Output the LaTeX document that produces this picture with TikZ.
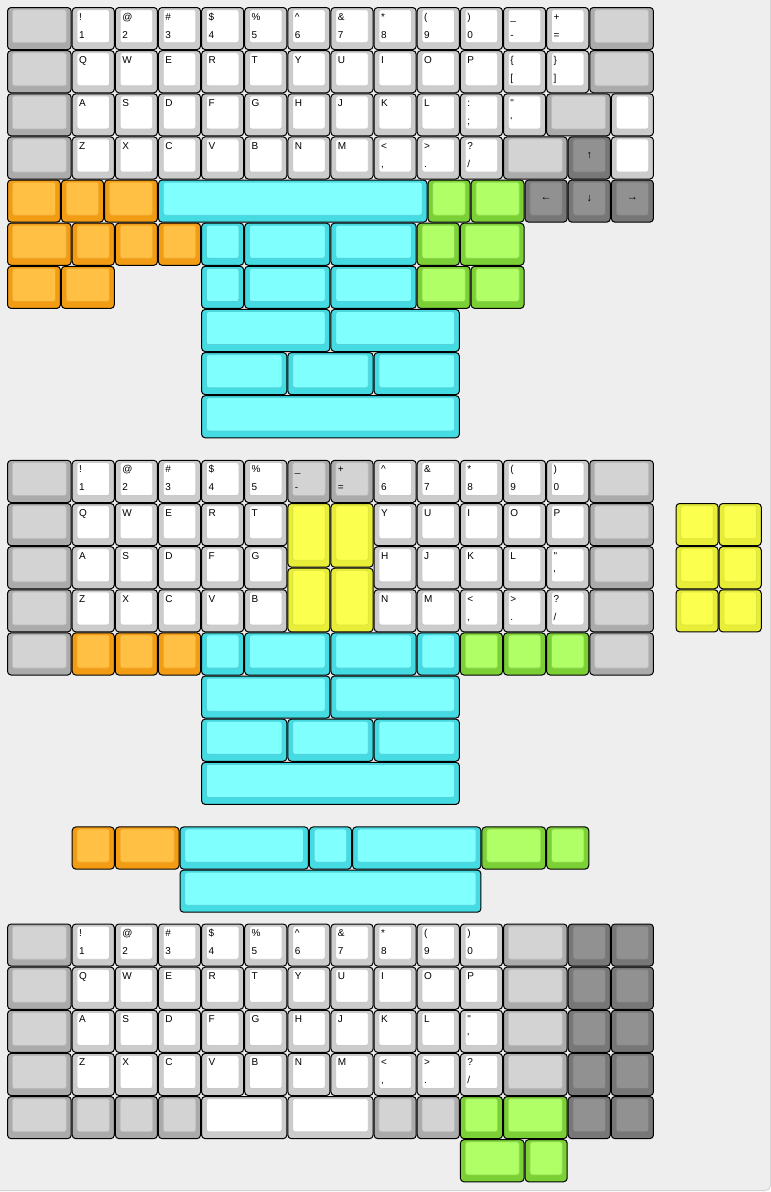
\documentclass[tikz,border=0pt]{standalone}
\usepackage{fontspec}
\newfontfamily\kf{Liberation Sans}
\definecolor{bgc}{HTML}{EEEEEE}
\definecolor{bgline}{HTML}{D4D4D4}
\definecolor{whto}{HTML}{CCCCCC}\definecolor{whti}{HTML}{FFFFFF}\definecolor{whtb}{HTML}{C9C9C9}
\definecolor{modo}{HTML}{ABABAB}\definecolor{modi}{HTML}{D3D3D3}\definecolor{modb}{HTML}{B9B9B9}
\definecolor{orgo}{HTML}{F29C14}\definecolor{orgi}{HTML}{FFC043}\definecolor{orgb}{HTML}{EFA52A}
\definecolor{cyno}{HTML}{44DBE3}\definecolor{cyni}{HTML}{80FFFF}\definecolor{cynb}{HTML}{52D2DA}
\definecolor{grno}{HTML}{7AD035}\definecolor{grni}{HTML}{B0FF66}\definecolor{grnb}{HTML}{8CD64C}
\definecolor{ylwo}{HTML}{E8EE38}\definecolor{ylwi}{HTML}{FBFF4D}\definecolor{ylwb}{HTML}{DDE33E}
\definecolor{drko}{HTML}{777777}\definecolor{drki}{HTML}{919191}\definecolor{drkb}{HTML}{7C7C7C}
\newcommand\KU{43.13}
% key with corner legends: x y w h colour top bottom
\newcommand\kk[7]{%
  \pgfmathsetmacro\xa{7+(#1)*\KU}%
  \pgfmathsetmacro\ya{7+(#2)*\KU}%
  \pgfmathsetmacro\xb{7+((#1)+(#3))*\KU}%
  \pgfmathsetmacro\yb{7+((#2)+(#4))*\KU}%
  \draw[keyouter, fill=#5o] (\xa+0.5,\ya+0.5) rectangle (\xb-0.5,\yb-0.5);
  \draw[keyinner, fill=#5i, draw=#5b] (\xa+5.3,\ya+2.6) rectangle (\xb-5.3,\yb-7.4);
  \node[lbl] at (\xa+7.3,\ya+13) {#6};
  \node[lbl] at (\xa+7.3,\ya+31) {#7};
}
% key with centred legend
\newcommand\kc[6]{%
  \pgfmathsetmacro\xa{7+(#1)*\KU}%
  \pgfmathsetmacro\ya{7+(#2)*\KU}%
  \pgfmathsetmacro\xb{7+((#1)+(#3))*\KU}%
  \pgfmathsetmacro\yb{7+((#2)+(#4))*\KU}%
  \draw[keyouter, fill=#5o] (\xa+0.5,\ya+0.5) rectangle (\xb-0.5,\yb-0.5);
  \draw[keyinner, fill=#5i, draw=#5b] (\xa+5.3,\ya+2.6) rectangle (\xb-5.3,\yb-7.4);
  \node[clbl] at ({(\xa+\xb)/2},{(\ya+2.6+\yb-7.4)/2}) {#6};
}
\newcommand\kw[4]{\kk{#1}{#2}{1}{1}{wht}{#3}{#4}}
\newcommand\QS{\textquotesingle}
\newcommand\QD{\textquotedbl}
\begin{document}
\begin{tikzpicture}[x=1pt,y=-1pt,
  keyouter/.style={draw=black, line width=1pt, rounded corners=3.6pt},
  keyinner/.style={line width=0.8pt, rounded corners=2.4pt},
  lbl/.style={anchor=base west, inner sep=0pt, text=black, font=\kf\fontsize{10}{12}\selectfont},
  clbl/.style={anchor=center, inner sep=0pt, text=black, font=\kf\fontsize{11}{13}\selectfont}]
\fill[white] (0,0) rectangle (771,1192);
\useasboundingbox (0,0) rectangle (771,1192);
\filldraw[fill=bgc, draw=bgline, line width=1pt, rounded corners=5pt] (-20,-20) rectangle (770.5,1190.5);
%% ===== Section 1 =====
% row 0
\kk{0}{0}{1.5}{1}{mod}{}{}
\kw{1.5}{0}{!}{1}\kw{2.5}{0}{@}{2}\kw{3.5}{0}{\#}{3}\kw{4.5}{0}{\$}{4}\kw{5.5}{0}{\%}{5}
\kw{6.5}{0}{\textasciicircum}{6}\kw{7.5}{0}{\&}{7}\kw{8.5}{0}{*}{8}\kw{9.5}{0}{(}{9}\kw{10.5}{0}{)}{0}
\kw{11.5}{0}{\_}{-}\kw{12.5}{0}{+}{=}
\kk{13.5}{0}{1.5}{1}{mod}{}{}
% row 1
\kk{0}{1}{1.5}{1}{mod}{}{}
\kw{1.5}{1}{Q}{}\kw{2.5}{1}{W}{}\kw{3.5}{1}{E}{}\kw{4.5}{1}{R}{}\kw{5.5}{1}{T}{}
\kw{6.5}{1}{Y}{}\kw{7.5}{1}{U}{}\kw{8.5}{1}{I}{}\kw{9.5}{1}{O}{}\kw{10.5}{1}{P}{}
\kw{11.5}{1}{\{}{[}\kw{12.5}{1}{\}}{]}
\kk{13.5}{1}{1.5}{1}{mod}{}{}
% row 2
\kk{0}{2}{1.5}{1}{mod}{}{}
\kw{1.5}{2}{A}{}\kw{2.5}{2}{S}{}\kw{3.5}{2}{D}{}\kw{4.5}{2}{F}{}\kw{5.5}{2}{G}{}
\kw{6.5}{2}{H}{}\kw{7.5}{2}{J}{}\kw{8.5}{2}{K}{}\kw{9.5}{2}{L}{}
\kw{10.5}{2}{:}{;}\kw{11.5}{2}{\QD}{\QS}
\kk{12.5}{2}{1.5}{1}{mod}{}{}
\kw{14}{2}{}{}
% row 3
\kk{0}{3}{1.5}{1}{mod}{}{}
\kw{1.5}{3}{Z}{}\kw{2.5}{3}{X}{}\kw{3.5}{3}{C}{}\kw{4.5}{3}{V}{}\kw{5.5}{3}{B}{}
\kw{6.5}{3}{N}{}\kw{7.5}{3}{M}{}
\kw{8.5}{3}{<}{,}\kw{9.5}{3}{>}{.}\kw{10.5}{3}{?}{/}
\kk{11.5}{3}{1.5}{1}{mod}{}{}
\kc{13}{3}{1}{1}{drk}{↑}
\kw{14}{3}{}{}
% row 4
\kk{0}{4}{1.25}{1}{org}{}{}\kk{1.25}{4}{1}{1}{org}{}{}\kk{2.25}{4}{1.25}{1}{org}{}{}
\kk{3.5}{4}{6.25}{1}{cyn}{}{}
\kk{9.75}{4}{1}{1}{grn}{}{}\kk{10.75}{4}{1.25}{1}{grn}{}{}
\kc{12}{4}{1}{1}{drk}{←}\kc{13}{4}{1}{1}{drk}{↓}\kc{14}{4}{1}{1}{drk}{→}
% row 5
\kk{0}{5}{1.5}{1}{org}{}{}\kk{1.5}{5}{1}{1}{org}{}{}\kk{2.5}{5}{1}{1}{org}{}{}\kk{3.5}{5}{1}{1}{org}{}{}
\kk{4.5}{5}{1}{1}{cyn}{}{}\kk{5.5}{5}{2}{1}{cyn}{}{}\kk{7.5}{5}{2}{1}{cyn}{}{}
\kk{9.5}{5}{1}{1}{grn}{}{}\kk{10.5}{5}{1.5}{1}{grn}{}{}
% row 6
\kk{0}{6}{1.25}{1}{org}{}{}\kk{1.25}{6}{1.25}{1}{org}{}{}
\kk{4.5}{6}{1}{1}{cyn}{}{}\kk{5.5}{6}{2}{1}{cyn}{}{}\kk{7.5}{6}{2}{1}{cyn}{}{}
\kk{9.5}{6}{1.25}{1}{grn}{}{}\kk{10.75}{6}{1.25}{1}{grn}{}{}
% rows 7-9
\kk{4.5}{7}{3}{1}{cyn}{}{}\kk{7.5}{7}{3}{1}{cyn}{}{}
\kk{4.5}{8}{2}{1}{cyn}{}{}\kk{6.5}{8}{2}{1}{cyn}{}{}\kk{8.5}{8}{2}{1}{cyn}{}{}
\kk{4.5}{9}{6}{1}{cyn}{}{}
%% ===== Section 2 =====
% row 10.5
\kk{0}{10.5}{1.5}{1}{mod}{}{}
\kw{1.5}{10.5}{!}{1}\kw{2.5}{10.5}{@}{2}\kw{3.5}{10.5}{\#}{3}\kw{4.5}{10.5}{\$}{4}\kw{5.5}{10.5}{\%}{5}
\kk{6.5}{10.5}{1}{1}{mod}{\_}{-}\kk{7.5}{10.5}{1}{1}{mod}{+}{=}
\kw{8.5}{10.5}{\textasciicircum}{6}\kw{9.5}{10.5}{\&}{7}\kw{10.5}{10.5}{*}{8}\kw{11.5}{10.5}{(}{9}\kw{12.5}{10.5}{)}{0}
\kk{13.5}{10.5}{1.5}{1}{mod}{}{}
% row 11.5
\kk{0}{11.5}{1.5}{1}{mod}{}{}
\kw{1.5}{11.5}{Q}{}\kw{2.5}{11.5}{W}{}\kw{3.5}{11.5}{E}{}\kw{4.5}{11.5}{R}{}\kw{5.5}{11.5}{T}{}
\kk{6.5}{11.5}{1}{1.5}{ylw}{}{}\kk{7.5}{11.5}{1}{1.5}{ylw}{}{}
\kw{8.5}{11.5}{Y}{}\kw{9.5}{11.5}{U}{}\kw{10.5}{11.5}{I}{}\kw{11.5}{11.5}{O}{}\kw{12.5}{11.5}{P}{}
\kk{13.5}{11.5}{1.5}{1}{mod}{}{}
\kk{15.5}{11.5}{1}{1}{ylw}{}{}\kk{16.5}{11.5}{1}{1}{ylw}{}{}
% row 12.5
\kk{0}{12.5}{1.5}{1}{mod}{}{}
\kw{1.5}{12.5}{A}{}\kw{2.5}{12.5}{S}{}\kw{3.5}{12.5}{D}{}\kw{4.5}{12.5}{F}{}\kw{5.5}{12.5}{G}{}
\kk{6.5}{13}{1}{1.5}{ylw}{}{}\kk{7.5}{13}{1}{1.5}{ylw}{}{}
\kw{8.5}{12.5}{H}{}\kw{9.5}{12.5}{J}{}\kw{10.5}{12.5}{K}{}\kw{11.5}{12.5}{L}{}\kw{12.5}{12.5}{\QD}{\QS}
\kk{13.5}{12.5}{1.5}{1}{mod}{}{}
\kk{15.5}{12.5}{1}{1}{ylw}{}{}\kk{16.5}{12.5}{1}{1}{ylw}{}{}
% row 13.5
\kk{0}{13.5}{1.5}{1}{mod}{}{}
\kw{1.5}{13.5}{Z}{}\kw{2.5}{13.5}{X}{}\kw{3.5}{13.5}{C}{}\kw{4.5}{13.5}{V}{}\kw{5.5}{13.5}{B}{}
\kw{8.5}{13.5}{N}{}\kw{9.5}{13.5}{M}{}\kw{10.5}{13.5}{<}{,}\kw{11.5}{13.5}{>}{.}\kw{12.5}{13.5}{?}{/}
\kk{13.5}{13.5}{1.5}{1}{mod}{}{}
\kk{15.5}{13.5}{1}{1}{ylw}{}{}\kk{16.5}{13.5}{1}{1}{ylw}{}{}
% row 14.5
\kk{0}{14.5}{1.5}{1}{mod}{}{}
\kk{1.5}{14.5}{1}{1}{org}{}{}\kk{2.5}{14.5}{1}{1}{org}{}{}\kk{3.5}{14.5}{1}{1}{org}{}{}
\kk{4.5}{14.5}{1}{1}{cyn}{}{}\kk{5.5}{14.5}{2}{1}{cyn}{}{}\kk{7.5}{14.5}{2}{1}{cyn}{}{}\kk{9.5}{14.5}{1}{1}{cyn}{}{}
\kk{10.5}{14.5}{1}{1}{grn}{}{}\kk{11.5}{14.5}{1}{1}{grn}{}{}\kk{12.5}{14.5}{1}{1}{grn}{}{}
\kk{13.5}{14.5}{1.5}{1}{mod}{}{}
% rows 15.5-17.5
\kk{4.5}{15.5}{3}{1}{cyn}{}{}\kk{7.5}{15.5}{3}{1}{cyn}{}{}
\kk{4.5}{16.5}{2}{1}{cyn}{}{}\kk{6.5}{16.5}{2}{1}{cyn}{}{}\kk{8.5}{16.5}{2}{1}{cyn}{}{}
\kk{4.5}{17.5}{6}{1}{cyn}{}{}
% row 19, 20
\kk{1.5}{19}{1}{1}{org}{}{}\kk{2.5}{19}{1.5}{1}{org}{}{}
\kk{4}{19}{3}{1}{cyn}{}{}\kk{7}{19}{1}{1}{cyn}{}{}\kk{8}{19}{3}{1}{cyn}{}{}
\kk{11}{19}{1.5}{1}{grn}{}{}\kk{12.5}{19}{1}{1}{grn}{}{}
\kk{4}{20}{7}{1}{cyn}{}{}
%% ===== Section 3 =====
% row 21.25
\kk{0}{21.25}{1.5}{1}{mod}{}{}
\kw{1.5}{21.25}{!}{1}\kw{2.5}{21.25}{@}{2}\kw{3.5}{21.25}{\#}{3}\kw{4.5}{21.25}{\$}{4}\kw{5.5}{21.25}{\%}{5}
\kw{6.5}{21.25}{\textasciicircum}{6}\kw{7.5}{21.25}{\&}{7}\kw{8.5}{21.25}{*}{8}\kw{9.5}{21.25}{(}{9}\kw{10.5}{21.25}{)}{0}
\kk{11.5}{21.25}{1.5}{1}{mod}{}{}
\kk{13}{21.25}{1}{1}{drk}{}{}\kk{14}{21.25}{1}{1}{drk}{}{}
% row 22.25
\kk{0}{22.25}{1.5}{1}{mod}{}{}
\kw{1.5}{22.25}{Q}{}\kw{2.5}{22.25}{W}{}\kw{3.5}{22.25}{E}{}\kw{4.5}{22.25}{R}{}\kw{5.5}{22.25}{T}{}
\kw{6.5}{22.25}{Y}{}\kw{7.5}{22.25}{U}{}\kw{8.5}{22.25}{I}{}\kw{9.5}{22.25}{O}{}\kw{10.5}{22.25}{P}{}
\kk{11.5}{22.25}{1.5}{1}{mod}{}{}
\kk{13}{22.25}{1}{1}{drk}{}{}\kk{14}{22.25}{1}{1}{drk}{}{}
% row 23.25
\kk{0}{23.25}{1.5}{1}{mod}{}{}
\kw{1.5}{23.25}{A}{}\kw{2.5}{23.25}{S}{}\kw{3.5}{23.25}{D}{}\kw{4.5}{23.25}{F}{}\kw{5.5}{23.25}{G}{}
\kw{6.5}{23.25}{H}{}\kw{7.5}{23.25}{J}{}\kw{8.5}{23.25}{K}{}\kw{9.5}{23.25}{L}{}\kw{10.5}{23.25}{\QD}{\QS}
\kk{11.5}{23.25}{1.5}{1}{mod}{}{}
\kk{13}{23.25}{1}{1}{drk}{}{}\kk{14}{23.25}{1}{1}{drk}{}{}
% row 24.25
\kk{0}{24.25}{1.5}{1}{mod}{}{}
\kw{1.5}{24.25}{Z}{}\kw{2.5}{24.25}{X}{}\kw{3.5}{24.25}{C}{}\kw{4.5}{24.25}{V}{}\kw{5.5}{24.25}{B}{}
\kw{6.5}{24.25}{N}{}\kw{7.5}{24.25}{M}{}\kw{8.5}{24.25}{<}{,}\kw{9.5}{24.25}{>}{.}\kw{10.5}{24.25}{?}{/}
\kk{11.5}{24.25}{1.5}{1}{mod}{}{}
\kk{13}{24.25}{1}{1}{drk}{}{}\kk{14}{24.25}{1}{1}{drk}{}{}
% row 25.25
\kk{0}{25.25}{1.5}{1}{mod}{}{}
\kk{1.5}{25.25}{1}{1}{mod}{}{}\kk{2.5}{25.25}{1}{1}{mod}{}{}\kk{3.5}{25.25}{1}{1}{mod}{}{}
\kk{4.5}{25.25}{2}{1}{wht}{}{}\kk{6.5}{25.25}{2}{1}{wht}{}{}
\kk{8.5}{25.25}{1}{1}{mod}{}{}\kk{9.5}{25.25}{1}{1}{mod}{}{}
\kk{10.5}{25.25}{1}{1}{grn}{}{}\kk{11.5}{25.25}{1.5}{1}{grn}{}{}
\kk{13}{25.25}{1}{1}{drk}{}{}\kk{14}{25.25}{1}{1}{drk}{}{}
% row 26.25
\kk{10.5}{26.25}{1.5}{1}{grn}{}{}\kk{12}{26.25}{1}{1}{grn}{}{}
\end{tikzpicture}
\end{document}
